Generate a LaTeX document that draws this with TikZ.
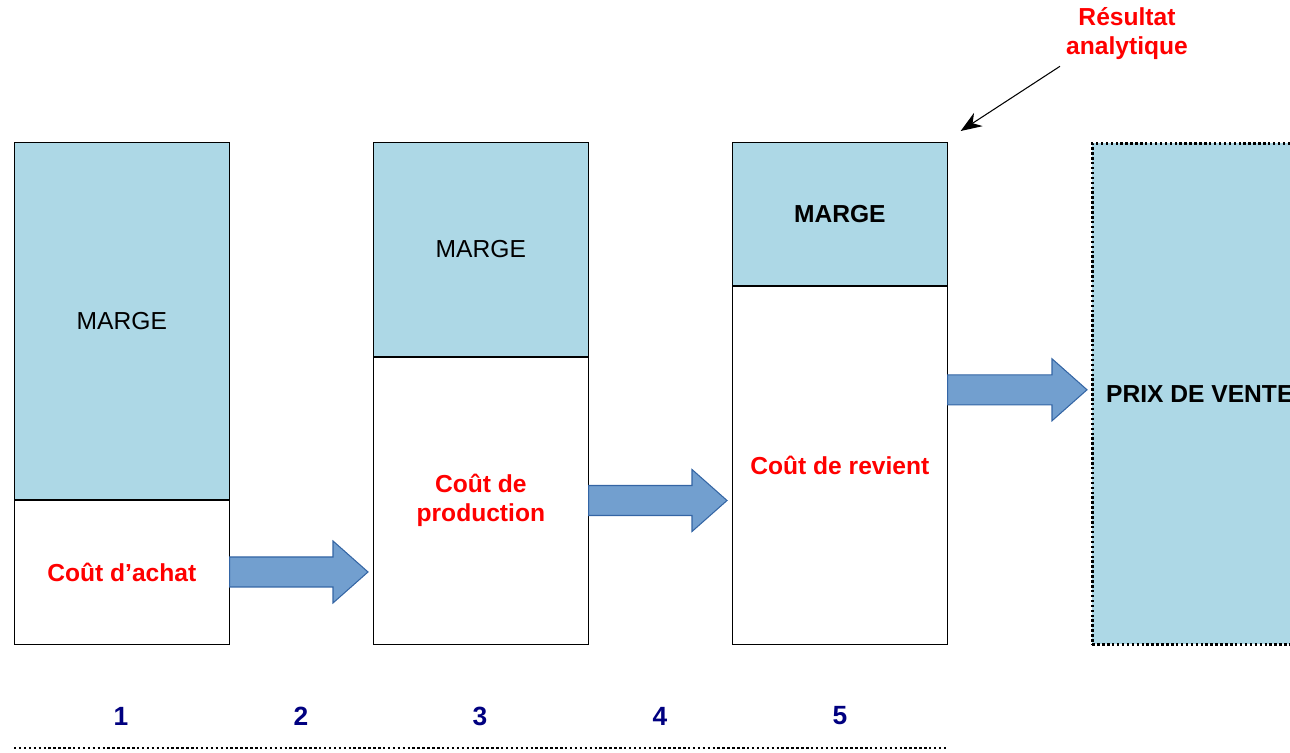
\documentclass[tikz,border=0pt]{standalone}
\usepackage{fontspec}
\setmainfont{Liberation Sans}
\usetikzlibrary{arrows.meta, positioning, calc}

\definecolor{bleuclair}{HTML}{ADD8E6}
\definecolor{bleufleche}{HTML}{729FCF}
\definecolor{bordfleche}{HTML}{3465A4}
\definecolor{bleunuit}{HTML}{000080}

% grosse fleche pleine entre deux points
\newcommand{\fleche}[2]{%
	\draw[bloc] ($(#1)+(0,-15)$) -- ($(#2)+(-35,-15)$) -- ($(#2)+(-35,-31)$) -- (#2)
		-- ($(#2)+(-35,31)$) -- ($(#2)+(-35,15)$) -- ($(#1)+(0,15)$) -- cycle;}

\begin{document}
\begin{tikzpicture}[
	x=0.02cm, y=-0.02cm,
	every node/.style={font=\fontsize{14}{16.5}\selectfont},
	marge/.style={
		rectangle, draw, fill=bleuclair,
		minimum width=4.3cm, inner sep=0pt, align=center
	},
	cout/.style={
		rectangle, draw, fill=white, text=red,
		minimum width=4.3cm, inner sep=0pt, align=center,
		font=\fontsize{14}{16.5}\selectfont\bfseries
	},
	pointille/.style={line width=1.5pt, dash pattern=on 1.4pt off 1.4pt},
	prixbox/.style={
		rectangle, draw, fill=bleuclair, pointille,
		minimum width=4.3cm, minimum height=10.02cm, inner sep=0pt,
		font=\fontsize{14}{16.5}\selectfont\bfseries
	},
	titre/.style={text=red, align=center, font=\fontsize{14}{16.5}\selectfont\bfseries},
	numero/.style={text=bleunuit, font=\fontsize{15}{18}\selectfont\bfseries},
	bloc/.style={fill=bleufleche, draw=bordfleche, line width=0.6pt, line join=miter},
	arrow/.style={-{Stealth[length=12pt, width=9pt]}, line width=0.6pt}
	]
	\useasboundingbox (0,0) rectangle (1290,752);

	% Nodes
	\node[marge, minimum height=7.14cm, anchor=north west] (marge1) at (14,142) {MARGE};
	\node[cout, minimum height=2.88cm, below=0pt of marge1] (cout1) {Coût d’achat};
	\node[marge, minimum height=4.28cm, anchor=north west] (marge2) at (373,142) {MARGE};
	\node[cout, minimum height=5.74cm, below=0pt of marge2] (cout2) {Coût de\\production};
	\node[marge, minimum height=2.86cm, anchor=north west, font=\fontsize{14}{16.5}\selectfont\bfseries] (marge3) at (732,142) {MARGE};
	\node[cout, minimum height=7.16cm, below=0pt of marge3] (cout3) {Coût de revient};
	\node[prixbox, anchor=north west] (prix) at (1091,142) {PRIX DE VENTE};
	\node[titre] (res) at (1127,34) {Résultat\\analytique};

	\foreach \n/\x in {1/121, 2/301, 3/480, 4/660, 5/840}
		\node[numero] (num\n) at (\x,716) {\n};

	% Arrows
	\coordinate (pointe) at ($(marge3.north east)+(13,-11)$);
	\draw[arrow] (res.south west) -- (pointe);

	\coordinate (a1) at (cout1.east);
	\coordinate (b1) at ($(cout1.east -| cout2.west)+(-5,0)$);
	\fleche{a1}{b1}
	\coordinate (a2) at (cout2.east);
	\coordinate (b2) at ($(cout2.east -| cout3.west)+(-5,0)$);
	\fleche{a2}{b2}
	\coordinate (b3) at ($(prix.west)+(-4,-4)$);
	\coordinate (a3) at (b3 -| cout3.east);
	\fleche{a3}{b3}

	% ligne du bas
	\draw[pointille] (marge1.west |- 0,748) -- (marge3.east |- 0,748);

\end{tikzpicture}
\end{document}
